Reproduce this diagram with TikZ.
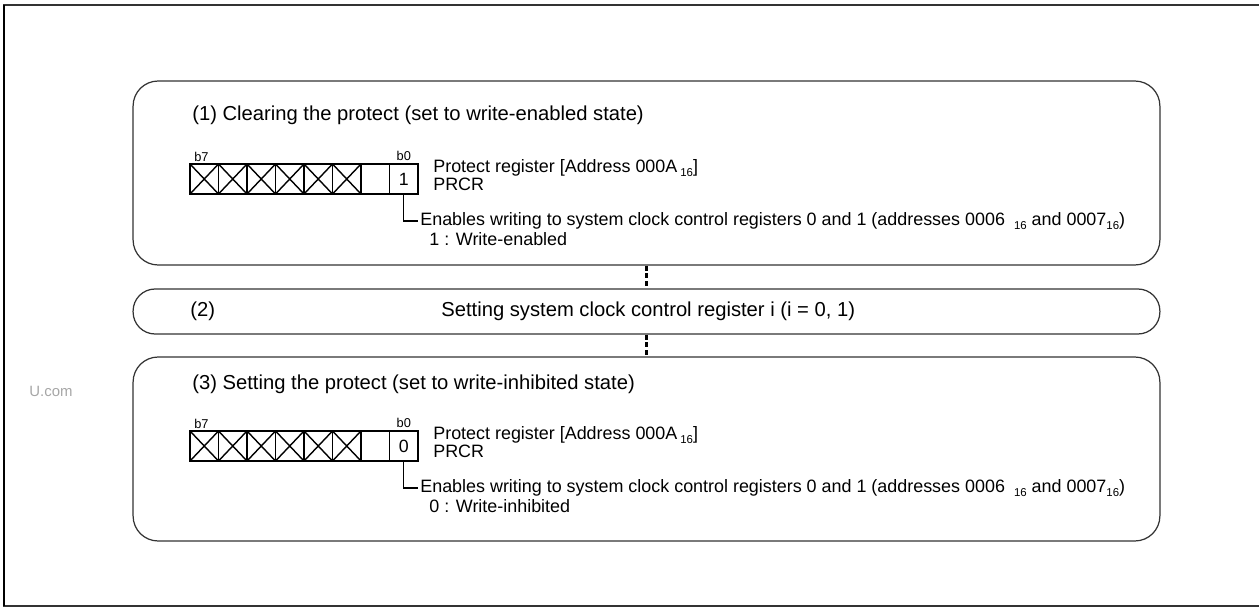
\documentclass[tikz,border=0pt]{standalone}
\usepackage{fontspec}
\setmainfont{Liberation Sans}
\usetikzlibrary{positioning}

\newcommand\hexsub[1]{\raisebox{-0.4ex}{\fontsize{6.5}{7}\selectfont #1}}

\begin{document}
\begin{tikzpicture}[x=0.02cm,y=-0.02cm,
  panel/.style={draw=black!80,line width=0.7pt,rounded corners=0.5cm,minimum width=20.54cm,minimum height=3.68cm,inner sep=0pt},
  head/.style={anchor=west,inner sep=0pt,font=\fontsize{11.5}{13}\selectfont},
  txt/.style={anchor=west,inner sep=0pt,font=\fontsize{10.2}{12}\selectfont},
  tinytxt/.style={inner sep=0pt,font=\fontsize{7.3}{8}\selectfont},
  cell/.style={draw,line width=0.8pt,minimum width=0.57cm,minimum height=0.6cm,inner sep=0pt,font=\fontsize{10.1}{11}\selectfont},
  sepline/.style={line width=2pt,dash pattern=on 2.8pt off 1.6pt}]
\useasboundingbox (0,0) rectangle (1259,608);
% outer frame
\draw[line width=1pt,black!80] (1259,5) -- (4,5) -- (4,606) -- (1259,606);
\draw[line width=1.6pt] (4,5) -- (4,606);
\node[anchor=west,inner sep=0pt,font=\fontsize{8.5}{10}\selectfont,text=black!35] (wm) at (29,391) {U.com};

% the three panels
\node[panel] (p1) at (646.5,173) {};
\node[panel,minimum height=0.9cm,rounded corners=0.44cm] (p2) at (646.5,311.5) {};
\node[panel] (p3) at (646.5,449) {};
\draw[sepline] (p1.south) -- (p2.north);
\draw[sepline] (p2.south) -- (p3.north);

\node[head] (t1) at (192,115) {(1) Clearing the protect (set to write-enabled state)};
\node[head] (t2a) at (190,311.5) {(2)};
\node[head] (t2b) at (441,311.5) {Setting system clock control register i (i = 0, 1)};
\node[head] (t3) at (192,384) {(3) Setting the protect (set to write-inhibited state)};

% register PRCR, once per panel
\foreach \n/\y/\v/\st in {1/164/1/Write-enabled,3/431/0/Write-inhibited}{
  \foreach \i in {0,...,5}{
    \draw[line width=0.8pt] (190+\i*28.5,\y) rectangle ++(28.5,30);
    \draw[line width=0.8pt] (190+\i*28.5,\y) -- ++(28.5,30) (190+\i*28.5,\y+30) -- ++(28.5,-30);
  }
  \node[cell] (bo\n) at (375.25,\y+15) {};
  \node[cell] (bz\n) at (403.75,\y+15) {\v};
  \node[tinytxt,anchor=south west] (bs\n) at (194,\y-2.5) {b7};
  \node[tinytxt,anchor=south] (bn\n) at ([yshift=1.5pt]bz\n.north) {b0};
  \node[txt] (pr\n) at (433,\y+4) {Protect register [Address 000A\,\hexsub{16}]};
  \node[txt] (pc\n) at (433,\y+20) {PRCR};
  \node[txt] (en\n) at (420,\y+57) {Enables writing to system clock control registers 0 and 1 (addresses 0006\enspace\hexsub{16} and 0007\hexsub{16})};
  \node[txt] (st\n) at (429,\y+75) {\v\ : \st};
  \draw[line width=0.7pt,shorten >=1pt] (bz\n.south) |- (en\n.west);
}
\end{tikzpicture}
\end{document}
